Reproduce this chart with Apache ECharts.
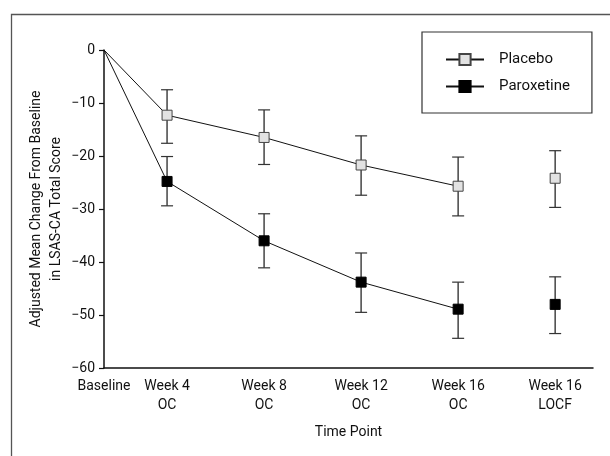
<!DOCTYPE html>
<html>
<head>
<meta charset="utf-8">
<script src="https://cdn.jsdelivr.net/npm/echarts@6/dist/echarts.min.js"></script>
<style>
html,body{margin:0;padding:0;background:#fff;}
#chart{width:610px;height:456px;}
</style>
</head>
<body>
<div id="chart"></div>
<script>
// ---- data ----
const categories = ['Baseline', 'Week 4\nOC', 'Week 8\nOC', 'Week 12\nOC', 'Week 16\nOC', 'Week 16\nLOCF'];
const xPositions = [0, 0.65, 1.65, 2.65, 3.65, 4.65];
const yTicks = [0, -10, -20, -30, -40, -50, -60];

const placeboMean = [0, -12.3, -16.5, -21.7, -25.7, -24.2];
const placeboHigh = [null, -7.5, -11.3, -16.2, -20.2, -19.0];
const placeboLow  = [null, -17.6, -21.6, -27.4, -31.3, -29.7];

const paroxetineMean = [0, -24.8, -36.0, -43.8, -48.9, -48.0];
const paroxetineHigh = [null, -20.1, -30.9, -38.3, -43.8, -42.8];
const paroxetineLow  = [null, -29.4, -41.1, -49.5, -54.4, -53.5];

const seriesNames = ['Placebo', 'Paroxetine'];
const xTitle = 'Time Point';
const yTitle = 'Adjusted Mean Change From Baseline\nin LSAS-CA Total Score';

// ---- build ----
const FONT = '"Liberation Sans Narrow", "Arial Narrow", Roboto, sans-serif';
const FS = 14;
const nOC = 5; // points joined by the line (Baseline..Week 16 OC)

function lineData(mean) {
  const d = [];
  for (let i = 0; i < nOC; i++) {
    const item = { value: [xPositions[i], mean[i]] };
    if (i === 0) item.symbol = 'none';
    d.push(item);
  }
  return d;
}
function locfData(mean) {
  const d = [];
  for (let i = nOC; i < mean.length; i++) d.push([xPositions[i], mean[i]]);
  return d;
}
function errData(low, high) {
  const d = [];
  for (let i = 0; i < low.length; i++) {
    if (low[i] == null) continue;
    d.push([xPositions[i], low[i], high[i]]);
  }
  return d;
}
function errRender(params, api) {
  const x = api.value(0);
  const lo = api.coord([x, api.value(1)]);
  const hi = api.coord([x, api.value(2)]);
  const w = 6;
  const vstyle = { stroke: '#444', lineWidth: 1.5 };
  const cstyle = { stroke: '#333', lineWidth: 1.2 };
  return {
    type: 'group',
    children: [
      { type: 'line', shape: { x1: lo[0], y1: lo[1], x2: hi[0], y2: hi[1] }, style: vstyle },
      { type: 'line', shape: { x1: lo[0] - w, y1: lo[1], x2: lo[0] + w, y2: lo[1] }, style: cstyle },
      { type: 'line', shape: { x1: hi[0] - w, y1: hi[1], x2: hi[0] + w, y2: hi[1] }, style: cstyle }
    ]
  };
}
function nearestCat(v) {
  let best = 0, bd = Infinity;
  xPositions.forEach((p, i) => { const d = Math.abs(p - v); if (d < bd) { bd = d; best = i; } });
  return categories[best];
}

const placeboStyle = { color: '#e2e2e2', borderColor: '#444', borderWidth: 1, opacity: 1 };
const paroxStyle = { color: '#000', borderColor: '#000', borderWidth: 1, opacity: 1 };

const option = {
  animation: false,
  backgroundColor: '#fff',
  textStyle: { fontFamily: FONT },
  graphic: [{
    type: 'rect', left: 9, top: 12, silent: true,
    shape: { width: 700, height: 600 },
    style: { fill: 'none', stroke: '#555', lineWidth: 1.3 }
  }],
  grid: { left: 104, right: 17, top: 50, bottom: 88 },
  legend: {
    data: seriesNames,
    orient: 'vertical',
    left: 422, top: 32,
    padding: [20, 22, 19, 23],
    itemGap: 12,
    itemWidth: 38, itemHeight: 14,
    borderColor: '#333', borderWidth: 1.2, borderRadius: 0,
    backgroundColor: '#fff',
    textStyle: { fontFamily: FONT, fontSize: 15, color: '#111', padding: [0, 0, 0, 10] }
  },
  xAxis: {
    type: 'value',
    min: 0, max: 5.04,
    name: xTitle, nameLocation: 'middle', nameGap: 57,
    nameMoveOverlap: false,
    nameTextStyle: { fontFamily: FONT, fontSize: FS, color: '#111' },
    axisLine: { show: true, onZero: false, lineStyle: { color: '#111', width: 1.5 } },
    axisTick: { show: false },
    splitLine: { show: false },
    axisLabel: {
      customValues: xPositions,
      formatter: v => nearestCat(v),
      fontFamily: FONT, fontSize: FS, color: '#111', lineHeight: 19, margin: 9
    }
  },
  yAxis: {
    type: 'value',
    min: -60, max: 0, interval: 10,
    name: yTitle, nameLocation: 'middle', nameGap: 38, nameRotate: 90,
    nameMoveOverlap: false,
    nameTextStyle: { fontFamily: FONT, fontSize: FS, color: '#111', lineHeight: 20 },
    axisLine: { show: true, lineStyle: { color: '#111', width: 1.5 } },
    axisTick: { show: true, inside: false, length: 5, lineStyle: { color: '#111', width: 1.2 } },
    splitLine: { show: false },
    axisLabel: {
      formatter: v => String(v).replace('-', '\u2212'),
      fontFamily: FONT, fontSize: FS, color: '#111', margin: 9
    }
  },
  series: [
    { name: 'Placebo SE', type: 'custom', renderItem: errRender, data: errData(placeboLow, placeboHigh), z: 1, silent: true },
    { name: 'Paroxetine SE', type: 'custom', renderItem: errRender, data: errData(paroxetineLow, paroxetineHigh), z: 1, silent: true },
    {
      name: seriesNames[0], type: 'line', data: lineData(placeboMean), z: 3,
      symbol: 'rect', symbolSize: 10,
      lineStyle: { color: '#111', width: 1 },
      itemStyle: placeboStyle
    },
    {
      name: seriesNames[1], type: 'line', data: lineData(paroxetineMean), z: 3,
      symbol: 'rect', symbolSize: 10,
      lineStyle: { color: '#111', width: 1 },
      itemStyle: paroxStyle
    },
    {
      name: 'Placebo LOCF', type: 'scatter', data: locfData(placeboMean), z: 3,
      symbol: 'rect', symbolSize: 10, itemStyle: placeboStyle
    },
    {
      name: 'Paroxetine LOCF', type: 'scatter', data: locfData(paroxetineMean), z: 3,
      symbol: 'rect', symbolSize: 10, itemStyle: paroxStyle
    }
  ]
};

const chart = echarts.init(document.getElementById('chart'), null, { renderer: 'canvas' });
chart.setOption(option);
</script>
</body>
</html>
